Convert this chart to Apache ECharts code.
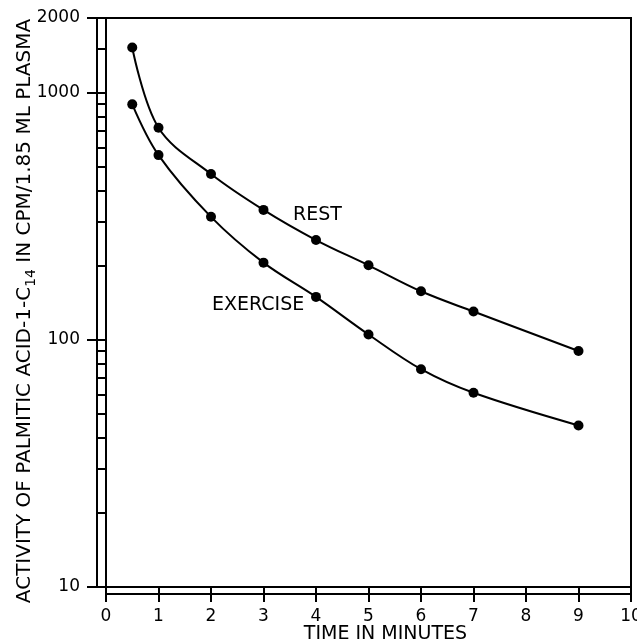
<!DOCTYPE html>
<html>
<head>
<meta charset="utf-8">
<script src="https://cdn.jsdelivr.net/npm/echarts@6/dist/echarts.min.js"></script>
<style>
  html, body { margin: 0; padding: 0; background: #fff; }
  #chart { width: 637px; height: 643px; }
</style>
</head>
<body>
<div id="chart"></div>
<script>
// ---- data ----
const timeMinutes = [0.5, 1, 2, 3, 4, 5, 6, 7, 9];
const restValues = [1520, 720, 468, 335, 253, 200, 157, 130, 90];
const exerciseValues = [895, 558, 314, 205, 149, 105, 76, 61, 45];
const yTickValues = [10, 100, 1000, 2000];
const yRungValues = [20, 30, 40, 50, 60, 70, 80, 90, 200, 300, 400, 500, 600, 700, 800, 900, 1500];
const xMin = 0, xMax = 10, xStep = 1;
const yMin = 10, yMax = 2000;

const FONT = 'DejaVu Sans';
const INK = '#000';

const chart = echarts.init(document.getElementById('chart'), null, { renderer: 'canvas' });

const restData = timeMinutes.map((t, i) => [t, restValues[i]]);
const exerciseData = timeMinutes.map((t, i) => [t, exerciseValues[i]]);

const option = {
  backgroundColor: '#fff',
  animation: false,
  grid: {
    left: 106, right: 6, top: 18, bottom: 56,
    containLabel: false, outerBoundsMode: 'none',
    show: true, borderColor: INK, borderWidth: 2, backgroundColor: 'transparent'
  },
  xAxis: [
    {
      type: 'value', min: xMin, max: xMax, interval: xStep, position: 'bottom',
      axisLine: { show: true, onZero: false, lineStyle: { color: INK, width: 2 } },
      axisTick: { show: true, inside: false, length: 15, lineStyle: { color: INK, width: 2 } },
      axisLabel: { color: INK, fontFamily: FONT, fontSize: 17, margin: 21, formatter: (v) => String(v) },
      splitLine: { show: false },
      name: 'TIME IN MINUTES', nameLocation: 'middle', nameGap: 38, nameMoveOverlap: false,
      nameTextStyle: { color: INK, fontFamily: FONT, fontSize: 19, padding: [0, 0, 0, 34] }
    },
    {
      type: 'value', min: xMin, max: xMax, interval: xStep, position: 'bottom', offset: 7,
      axisLine: { show: true, onZero: false, lineStyle: { color: INK, width: 2 } },
      axisTick: { show: false }, axisLabel: { show: false }, splitLine: { show: false }
    }
  ],
  yAxis: [
    {
      type: 'log', logBase: 10, min: yMin, max: yMax, position: 'left',
      axisLine: { show: true, onZero: false, lineStyle: { color: INK, width: 2 } },
      axisTick: { show: true, inside: false, length: 19, customValues: yTickValues, lineStyle: { color: INK, width: 2 } },
      axisLabel: { color: INK, fontFamily: FONT, fontSize: 17, margin: 26, customValues: yTickValues, formatter: (v) => String(Math.round(v)) },
      splitLine: { show: false }, minorTick: { show: false }, minorSplitLine: { show: false },
      name: 'ACTIVITY OF PALMITIC ACID-1-C{sub|14} IN CPM/1.85 ML PLASMA',
      nameLocation: 'middle', nameGap: 68, nameMoveOverlap: false,
      nameTextStyle: {
        color: INK, fontFamily: FONT, fontSize: 20, padding: [0, 17, 0, 0],
        rich: { sub: { color: INK, fontFamily: FONT, fontSize: 14, padding: [13, 0, 0, 0] } }
      }
    },
    {
      type: 'log', logBase: 10, min: yMin, max: yMax, position: 'left', offset: 9,
      axisLine: { show: true, onZero: false, lineStyle: { color: INK, width: 2 } },
      axisTick: { show: true, inside: true, length: 9, customValues: yRungValues, lineStyle: { color: INK, width: 2 } },
      axisLabel: { show: false }, splitLine: { show: false },
      minorTick: { show: false }, minorSplitLine: { show: false }
    }
  ],
  series: [
    {
      name: 'REST', type: 'line', xAxisIndex: 0, yAxisIndex: 0, data: restData,
      smooth: 0.35, symbol: 'circle', symbolSize: 10,
      lineStyle: { color: INK, width: 2 }, itemStyle: { color: INK }
    },
    {
      name: 'EXERCISE', type: 'line', xAxisIndex: 0, yAxisIndex: 0, data: exerciseData,
      smooth: 0.35, symbol: 'circle', symbolSize: 10,
      lineStyle: { color: INK, width: 2 }, itemStyle: { color: INK }
    }
  ],
  graphic: [
    { type: 'text', left: 293, top: 206, style: { text: 'REST', fill: INK, font: '19px "DejaVu Sans"' } },
    { type: 'text', left: 212, top: 296, style: { text: 'EXERCISE', fill: INK, font: '19px "DejaVu Sans"' } }
  ]
};

chart.setOption(option);
</script>
</body>
</html>
